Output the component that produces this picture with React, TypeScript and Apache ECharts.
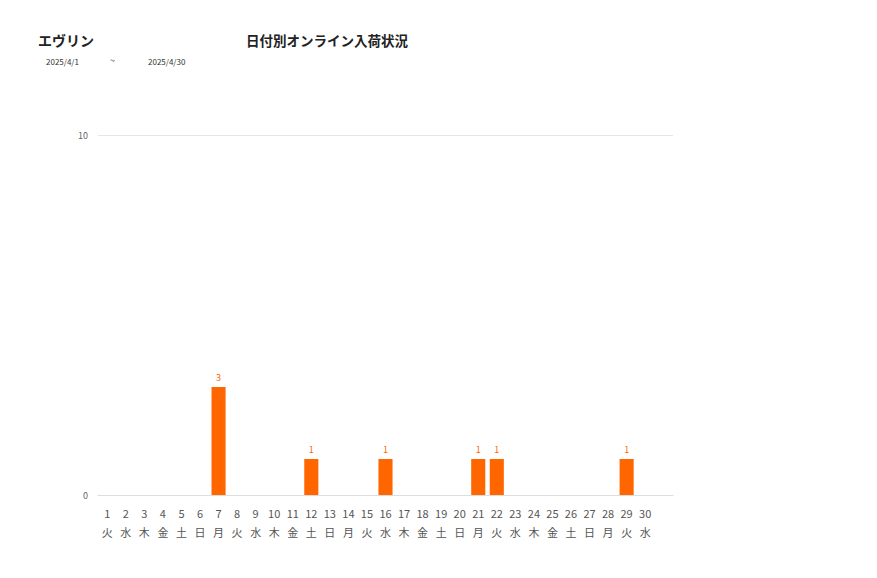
import React, { useEffect, useRef } from 'react'
import * as echarts from 'echarts'

// 日付・曜日・入荷数（4月）
const days = ['1', '2', '3', '4', '5', '6', '7', '8', '9', '10', '11', '12', '13', '14', '15',
  '16', '17', '18', '19', '20', '21', '22', '23', '24', '25', '26', '27', '28', '29', '30', '']
const weekdays = ['火', '水', '木', '金', '土', '日', '月', '火', '水', '木', '金', '土', '日', '月', '火',
  '水', '木', '金', '土', '日', '月', '火', '水', '木', '金', '土', '日', '月', '火', '水', '']
const counts: (number | null)[] = [0, 0, 0, 0, 0, 0, 3, 0, 0, 0, 0, 1, 0, 0, 0,
  1, 0, 0, 0, 0, 1, 1, 0, 0, 0, 0, 0, 0, 1, 0, null]
const yTicks = [0, 10]

const FONT = '"Noto Sans CJK JP", "Noto Sans", sans-serif'

const App: React.FC = () => {
  const ref = useRef<HTMLDivElement>(null)

  useEffect(() => {
    document.body.style.margin = '0'
    if (!ref.current) return
    const chart = echarts.init(ref.current, undefined, { renderer: 'svg' })
    chart.setOption({
      animation: false,
      backgroundColor: '#fff',
      textStyle: { fontFamily: FONT },
      title: [
        { text: 'エヴリン', left: 38, top: 33, padding: 0, textStyle: { fontSize: 14, fontWeight: 'bold', color: '#222', fontFamily: FONT } },
        { text: '日付別オンライン入荷状況', left: 246, top: 33, padding: 0, textStyle: { fontSize: 13.5, fontWeight: 'bold', color: '#222', fontFamily: FONT } },
        { text: '2025/4/1', left: 46, top: 57, padding: 0, textStyle: { fontSize: 8, fontWeight: 'normal', color: '#333', fontFamily: FONT } },
        { text: '~', left: 110, top: 56, padding: 0, textStyle: { fontSize: 9, fontWeight: 'normal', color: '#333', fontFamily: FONT } },
        { text: '2025/4/30', left: 148, top: 57, padding: 0, textStyle: { fontSize: 8, fontWeight: 'normal', color: '#333', fontFamily: FONT } },
      ],
      grid: { left: 98, right: 204, top: 135, bottom: 83 },
      xAxis: {
        type: 'category',
        data: days.map((d, i) => (d ? `${d}\n${weekdays[i]}` : '')),
        axisTick: { show: false },
        axisLine: { lineStyle: { color: '#dddddd' } },
        axisLabel: { interval: 0, color: '#555', fontSize: 11, lineHeight: 19, margin: 8, fontFamily: FONT },
      },
      yAxis: {
        type: 'value',
        min: yTicks[0],
        max: yTicks[yTicks.length - 1],
        interval: 10,
        axisLine: { show: false },
        axisTick: { show: false },
        axisLabel: { color: '#666', fontSize: 9, margin: 10, fontFamily: FONT },
        splitLine: { lineStyle: { color: '#e6e6e6' } },
      },
      series: [{
        type: 'bar',
        data: counts,
        barCategoryGap: '24%',
        itemStyle: { color: '#ff6600' },
        label: {
          show: true,
          position: 'top',
          distance: 5,
          color: '#ff6600',
          fontSize: 9,
          fontFamily: FONT,
          formatter: (p: any) => (p.value ? String(p.value) : ''),
        },
      }],
    })
    return () => chart.dispose()
  }, [])

  return <div ref={ref} style={{ width: 877, height: 578 }} />
}

export default App
